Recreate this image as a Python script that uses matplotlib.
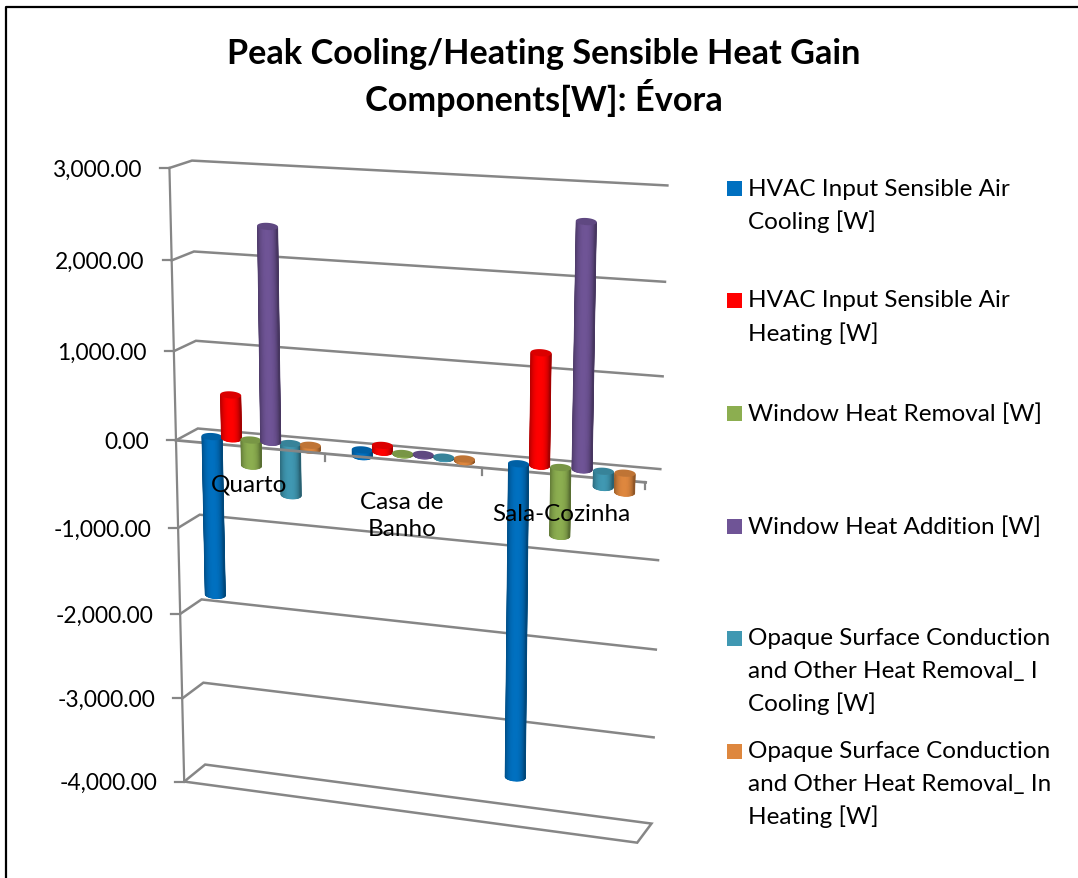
import numpy as np
import matplotlib
matplotlib.use("Agg")
import matplotlib.pyplot as plt
from matplotlib.colors import LinearSegmentedColormap
from matplotlib.patches import Polygon, Rectangle

plt.rcParams['font.family'] = ['Lato', 'DejaVu Sans']

title_lines = ["Peak Cooling/Heating Sensible Heat Gain", "Components[W]: Évora"]
categories = ["Quarto", "Casa de\nBanho", "Sala-Cozinha"]
y_ticks = [3000, 2000, 1000, 0, -1000, -2000, -3000, -4000]

hvac_cooling = [-1830, -70, -3550]
hvac_heating = [490, 70, 1220]
window_removal = [-290, -10, -750]
window_addition = [2380, 10, 2630]
opaque_cooling = [-585, -10, -170]
opaque_heating = [-50, -25, -210]

series = [hvac_cooling, hvac_heating, window_removal, window_addition, opaque_cooling, opaque_heating]
colors = ["#0070C0", "#FF0000", "#8CAE50", "#6F5496", "#4098B2", "#DE873E"]
legend_labels = [
    "HVAC Input Sensible Air\nCooling [W]",
    "HVAC Input Sensible Air\nHeating [W]",
    "Window Heat Removal [W]",
    "Window Heat Addition [W]",
    "Opaque Surface Conduction\nand Other Heat Removal_ I\nCooling [W]",
    "Opaque Surface Conduction\nand Other Heat Removal_ In\nHeating [W]",
]

# corners of the 3d box in the picture, used to fit the projection
world = [(0, 3000, 0), (0, 0, 0), (0, -4000, 0), (0, 3000, 1), (0, 0, 1), (0, -4000, 1),
         (1, 3000, 1), (1, 0, 1), (1, -4000, 1), (1, 0, 0), (1, -4000, 0), (0, 2000, 1), (1, 2000, 1)]
screen = [(169, 169), (177, 441), (183.5, 782), (192, 161), (198, 430), (205, 766),
          (667, 186), (660, 470), (652, 824), (646, 484), (637, 844), (194, 253), (665, 283)]


def fit_projection():
    rows = []
    for (a, b, c), (u, v) in zip(world, screen):
        b = b / 1000
        rows.append([a, b, c, 1, 0, 0, 0, 0, -u * a, -u * b, -u * c, -u])
        rows.append([0, 0, 0, 0, a, b, c, 1, -v * a, -v * b, -v * c, -v])
    return np.linalg.svd(np.array(rows))[2][-1].reshape(3, 4)


P = fit_projection()


def project(a, val, c):
    h = P @ np.array([a, val / 1000, c, 1])
    return h[0] / h[2], h[1] / h[2]


fig = plt.figure(figsize=(10.78, 8.79), dpi=100)
ax = fig.add_axes([0, 0, 1, 1])
ax.set_xlim(0, 1078)
ax.set_ylim(879, 0)
ax.axis('off')

# chart frame
ax.plot([5.5, 5.5, 1078], [879, 8, 8], color='black', lw=1.6, zorder=1)

grey = '#868686'
for v in y_ticks:
    pts = [project(0, v, 0), project(0, v, 1), project(1, v, 1)]
    if v == -4000:
        pts = pts + [project(1, v, 0), pts[0]]
    ax.plot(*zip(*pts), color=grey, lw=1.8, zorder=1.5, solid_joinstyle='miter')
    x0, y0 = project(0, v, 0)
    ax.plot([x0 - 9, x0], [y0, y0], color=grey, lw=1.6, zorder=1.5)
    ax.text(x0 - 27, y0 + 1, f"{v:,.2f}", ha='right', va='center', fontsize=16.4, color='black')
ax.plot(*zip(project(0, 3000, 0), project(0, -4000, 0)), color=grey, lw=1.6, zorder=1.5)

# zero axis with its category ticks
ax.plot(*zip(project(0, 0, 0), project(1, 0, 0)), color=grey, lw=2, zorder=3)
for k in [1, 2, 3]:
    tx, ty = project(k / 3, 0, 0)
    ax.plot([tx - 1, tx - 1], [ty, ty + 7], color=grey, lw=1.6, zorder=3)

step = 0.1317
behind_axis = {(4, 0), (5, 0), (0, 1)}


def shade(col, f):
    r, g, b = matplotlib.colors.to_rgb(col)
    return (r * f, g * f, b * f)


def cylinder(cat, s, val, col, z):
    a = (cat + 0.5 + (s - 2.5) * step) / 3
    x1, y1 = project(a, 0, 0.5)
    x2, y2 = project(a, val, 0.5)
    if val > 0:
        top, bot = (x2, y2), (x1, y1)
    else:
        top, bot = (x1, y1), (x2, y2)
    rx, ry, tilt = 10.5, 3.6, 0.06
    t = np.linspace(np.pi, 0, 25)
    dx = rx * np.cos(t)
    dy = ry * np.sin(t) + tilt * dx
    xs = np.vstack([top[0] + dx, bot[0] + dx])
    ys = np.vstack([top[1] + dy, bot[1] + dy])
    # antialiased base shape, the mesh goes inside it so its jagged edge does not show
    outline = list(zip(xs[0], ys[0])) + list(zip(xs[1][::-1], ys[1][::-1]))
    ax.add_patch(Polygon(outline, closed=True, fc=shade(col, 0.72), ec='none', zorder=z))
    inner = 0.93
    f = 1 - 0.32 * np.abs(np.cos(t) + 0.05) ** 2.6
    xi = np.vstack([top[0] + dx * inner, bot[0] + dx * inner])
    cmap = LinearSegmentedColormap.from_list("side", ["black", col])
    ax.pcolormesh(xi, ys, np.vstack([f, f]), cmap=cmap, vmin=0, vmax=1, shading='gouraud', zorder=z + 0.002)
    t2 = np.linspace(0, 2 * np.pi, 60)
    dx2 = rx * np.cos(t2)
    cap = np.column_stack([top[0] + dx2, top[1] + ry * np.sin(t2) + tilt * dx2])
    ax.add_patch(Polygon(cap, closed=True, fc=shade(col, 0.86), ec='none', zorder=z + 0.01))


for s, vals in enumerate(series):
    for c, val in enumerate(vals):
        z = 2 if (s, c) in behind_axis else 4 + s * 0.1 + c
        cylinder(c, s, val, colors[s], z)

# category labels sit over the bars
ax.text(249, 485, categories[0], ha='center', va='center', fontsize=17.5, zorder=20)
ax.text(402, 516, categories[1], ha='center', va='center', fontsize=17.5, zorder=20, linespacing=1.35)
ax.text(561, 515, categories[2], ha='center', va='center', fontsize=17.5, zorder=20)

ax.text(544, 54, title_lines[0], ha='center', va='center', fontsize=24.7, fontweight='bold')
ax.text(544, 98, title_lines[1], ha='center', va='center', fontsize=24.7, fontweight='bold')

# legend
legend_y = [189, 301, 414, 527, 639, 752]
for lab, col, ly in zip(legend_labels, colors, legend_y):
    ax.add_patch(Rectangle((727, ly - 7.5), 15, 15, fc=col, ec='none'))
    for i, line in enumerate(lab.split("\n")):
        ax.text(748, ly + i * 32.5, line, ha='left', va='center', fontsize=17.5)

fig.savefig("out.png", dpi=100)
print("saved")
